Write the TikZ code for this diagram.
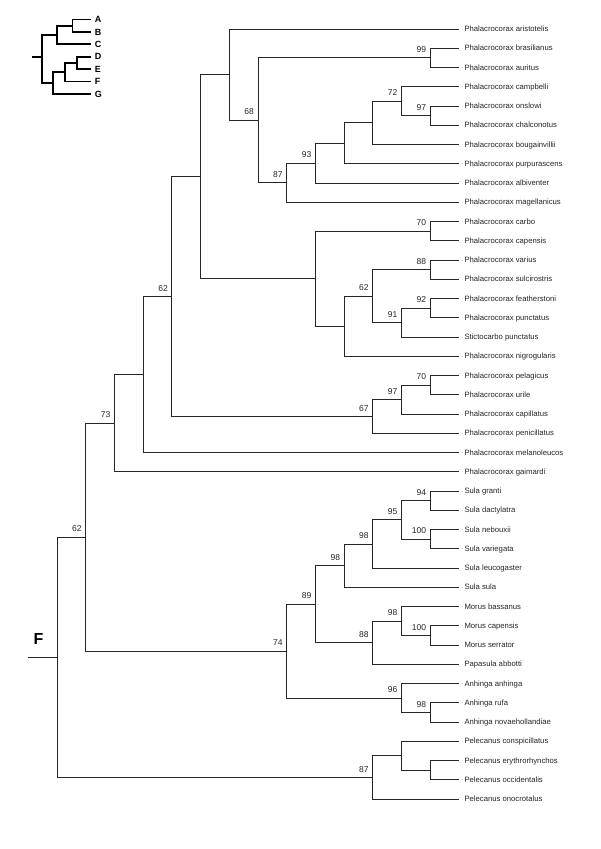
\documentclass[tikz,border=0pt]{standalone}
\usepackage{fontspec}
\setmainfont{Liberation Sans}
\begin{document}
\begin{tikzpicture}[x=1pt,y=-1pt,
  br/.style={line width=0.8pt, draw=black!85},
  ibr/.style={line width=1.9pt, draw=black},
  leaf/.style={anchor=base west, inner sep=0pt, xshift=5.5pt, yshift=-2.7pt, font=\fontsize{7.7}{9}\selectfont, text=black!85},
  bs/.style={anchor=base east, inner sep=0pt, xshift=-3.8pt, yshift=5.3pt, font=\fontsize{8.5}{10}\selectfont, text=black!85},
  ilab/.style={anchor=base west, inner sep=0pt, xshift=4pt, yshift=-3.2pt, font=\fontsize{9}{10}\selectfont\bfseries},
  biglab/.style={inner sep=0pt, font=\fontsize{16}{18}\selectfont\bfseries}]
\useasboundingbox[fill=white] (0,0) rectangle (600,849);

% ---------- inset ----------
\foreach \i/\t in {1/A,2/B,3/C,4/D,5/E,6/F,7/G}{
  \coordinate (it\i) at (90.7,{19.5+(\i-1)*12.4});
  \node[ilab] (il\i) at (it\i) {\t};
}
\coordinate (iAB) at (72.5,25.7);
\coordinate (iABC) at (57,35);
\coordinate (iDE) at (77,62.9);
\coordinate (iDEF) at (64.8,72.2);
\coordinate (iDEFG) at (53,83.05);
\coordinate (iroot) at (41.7,57);
\coordinate (iroot0) at (31.5,57);
\foreach \p/\c in {iAB/it1,iAB/it2,iABC/iAB,iABC/it3,iDE/it4,iDE/it5,iDEF/iDE,iDEF/it6,iDEFG/iDEF,iDEFG/it7,iroot/iABC,iroot/iDEFG}
  \draw[ibr] (\p) |- (\c);
\draw[ibr] (iroot0) -- (iroot);

% ---------- leaves ----------
\foreach \i/\t in {
 1/{Phalacrocorax aristotelis},
 2/{Phalacrocorax brasilianus},
 3/{Phalacrocorax auritus},
 4/{Phalacrocorax campbelli},
 5/{Phalacrocorax onslowi},
 6/{Phalacrocorax chalconotus},
 7/{Phalacrocorax bougainvillii},
 8/{Phalacrocorax purpurascens},
 9/{Phalacrocorax albiventer},
 10/{Phalacrocorax magellanicus},
 11/{Phalacrocorax carbo},
 12/{Phalacrocorax capensis},
 13/{Phalacrocorax varius},
 14/{Phalacrocorax sulcirostris},
 15/{Phalacrocorax featherstoni},
 16/{Phalacrocorax punctatus},
 17/{Stictocarbo punctatus},
 18/{Phalacrocorax nigrogularis},
 19/{Phalacrocorax pelagicus},
 20/{Phalacrocorax urile},
 21/{Phalacrocorax capillatus},
 22/{Phalacrocorax penicillatus},
 23/{Phalacrocorax melanoleucos},
 24/{Phalacrocorax gaimardi},
 25/{Sula granti},
 26/{Sula dactylatra},
 27/{Sula nebouxii},
 28/{Sula variegata},
 29/{Sula leucogaster},
 30/{Sula sula},
 31/{Morus bassanus},
 32/{Morus capensis},
 33/{Morus serrator},
 34/{Papasula abbotti},
 35/{Anhinga anhinga},
 36/{Anhinga rufa},
 37/{Anhinga novaehollandiae},
 38/{Pelecanus conspicillatus},
 39/{Pelecanus erythrorhynchos},
 40/{Pelecanus occidentalis},
 41/{Pelecanus onocrotalus}}{
  \coordinate (t\i) at (458.8,{29+(\i-1)*19.25});
  \node[leaf] (l\i) at (t\i) {\t};
}

% ---------- internal nodes ----------
\coordinate (n99a) at (430.1,57.875);
\coordinate (n97a) at (430.1,115.625);
\coordinate (n72) at (401.4,101.19);
\coordinate (nb) at (372.7,122.84);
\coordinate (np) at (344,143.30);
\coordinate (n93) at (315.3,163.15);
\coordinate (n87a) at (286.6,182.70);
\coordinate (n68) at (257.9,120.29);
\coordinate (na) at (229.2,74.64);
\coordinate (n70a) at (430.1,231.125);
\coordinate (n88a) at (430.1,269.625);
\coordinate (n92) at (430.1,308.125);
\coordinate (n91) at (401.4,322.56);
\coordinate (n62b) at (372.7,296.09);
\coordinate (nn) at (344,326.17);
\coordinate (nc) at (315.3,278.65);
\coordinate (n62a) at (200.5,176.65);
\coordinate (n70b) at (430.1,385.125);
\coordinate (n97b) at (401.4,399.56);
\coordinate (n67) at (372.7,416.41);
\coordinate (nd) at (171.8,296.53);
\coordinate (ne) at (143.1,374.52);
\coordinate (n73) at (114.4,423.13);
\coordinate (n94) at (430.1,500.625);
\coordinate (n100a) at (430.1,539.125);
\coordinate (n95) at (401.4,519.875);
\coordinate (n98a) at (372.7,543.94);
\coordinate (n98b) at (344,565.59);
\coordinate (n100b) at (430.1,635.375);
\coordinate (n98c) at (401.4,620.94);
\coordinate (n88b) at (372.7,642.59);
\coordinate (n89) at (315.3,604.09);
\coordinate (n98d) at (430.1,712.375);
\coordinate (n96) at (401.4,697.94);
\coordinate (n74) at (286.6,651.02);
\coordinate (n62c) at (85.7,537.07);
\coordinate (npa) at (430.1,770.125);
\coordinate (npb) at (401.4,755.69);
\coordinate (n87b) at (372.7,777.34);
\coordinate (root) at (57,657.2);
\coordinate (root0) at (28.3,657.2);

% ---------- branches ----------
\foreach \p/\c in {n99a/t2,n99a/t3,n97a/t5,n97a/t6,n72/t4,n72/n97a,nb/n72,nb/t7,np/nb,np/t8,
  n93/np,n93/t9,n87a/n93,n87a/t10,n68/n99a,n68/n87a,na/t1,na/n68,
  n70a/t11,n70a/t12,n88a/t13,n88a/t14,n92/t15,n92/t16,n91/n92,n91/t17,n62b/n88a,n62b/n91,
  nn/n62b,nn/t18,nc/n70a,nc/nn,n62a/na,n62a/nc,
  n70b/t19,n70b/t20,n97b/n70b,n97b/t21,n67/n97b,n67/t22,nd/n62a,nd/n67,ne/nd,ne/t23,n73/ne,n73/t24,
  n94/t25,n94/t26,n100a/t27,n100a/t28,n95/n94,n95/n100a,n98a/n95,n98a/t29,n98b/n98a,n98b/t30,
  n100b/t32,n100b/t33,n98c/t31,n98c/n100b,n88b/n98c,n88b/t34,n89/n98b,n89/n88b,
  n98d/t36,n98d/t37,n96/t35,n96/n98d,n74/n89,n74/n96,n62c/n73,n62c/n74,
  npa/t39,npa/t40,npb/t38,npb/npa,n87b/npb,n87b/t41,root/n62c,root/n87b}
  \draw[br] (\p) |- (\c);
\draw[br] (root0) -- (root);

% ---------- support values ----------
\foreach \n/\v in {n99a/99,n97a/97,n72/72,n93/93,n87a/87,n68/68,n70a/70,n88a/88,n92/92,n91/91,
  n62b/62,nd/62,n70b/70,n97b/97,n67/67,n73/73,n94/94,n100a/100,n95/95,n98a/98,n98b/98,
  n100b/100,n98c/98,n88b/88,n89/89,n98d/98,n96/96,n74/74,n62c/62,n87b/87}
  \node[bs] (b\n) at (\n) {\v};

\node[biglab] (Flab) at (38.5,639.2) {F};
\end{tikzpicture}
\end{document}
